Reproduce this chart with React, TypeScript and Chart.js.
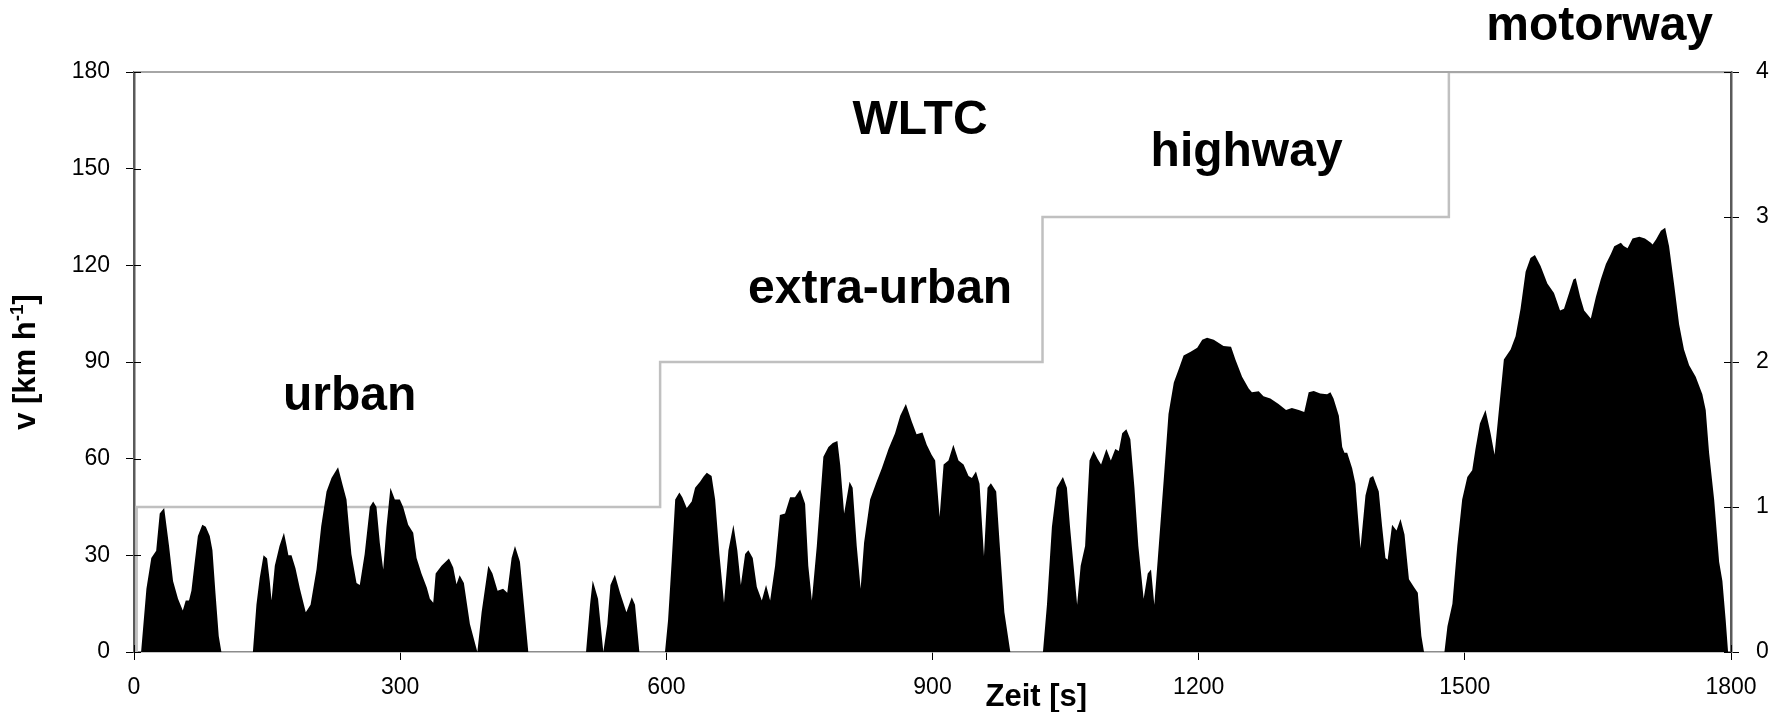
import React, { useEffect, useRef } from "react";
import { Chart, registerables } from "chart.js";

Chart.register(...registerables);

// WLTC speed trace: time [s] and speed [km/h]
const speedTime = [
  0, 8, 14, 19.5, 25, 29, 34, 39.5, 44, 49.6, 55, 58.3, 62, 64.7, 68.5, 72, 77, 80.9, 85.4, 88.4, 91.8, 95.5, 98.5,
  134, 138, 141.7, 146, 150, 153, 155, 158.7, 164, 169, 172, 174, 177.5, 182, 187, 193.6, 199, 205.7, 211, 217,
  222.6, 230, 235, 239.5, 245, 250.8, 254.5, 260, 265.8, 269.6, 273.3, 277, 280.9, 284.6, 289, 294, 299.6, 303.4,
  309, 314.7, 318.5, 324, 330, 333.5, 337.3, 340, 346.6, 355, 359.8, 363.5, 367, 371.8, 378.6, 387, 391.8, 399.3,
  404, 409.8, 416, 420.7, 425.6, 429.4, 435, 439.5, 444.4,
  509.5, 514, 517, 523, 529, 533.5, 537, 542, 547.8, 555, 561, 564.7, 569.6,
  598.5, 602, 606, 610, 614.7, 618, 623, 628.6, 632.4, 638, 642, 645.6, 651, 655, 659.8, 665, 670, 675.6, 680, 684,
  688.8, 692.5, 697.4, 702, 707.6, 712.4, 717, 722.6, 728, 733.8, 739.5, 745, 750.8, 756.4, 760, 764, 769.6, 777,
  782.7, 787.6, 792.8, 796, 800.4, 806.5, 810, 814.6, 819, 822.9, 829.7, 837, 842.9, 850.4, 857.8, 863.6, 870,
  876.6, 882, 888.7, 893.5, 899, 903, 908, 912.5, 918, 923.5, 929.3, 935, 940.6, 944.4, 949, 953, 958, 962, 965.8,
  971.8, 975.6, 981, 987.7,
  1024.5, 1029, 1034.6, 1040, 1047, 1051.5, 1055, 1059, 1063, 1067, 1072, 1077, 1081.6, 1086, 1090, 1096, 1101,
  1106, 1110, 1113.8, 1118.5, 1123, 1127.6, 1132, 1138, 1142.6, 1146.3, 1150, 1154, 1160.6, 1166, 1172, 1177.6,
  1183, 1191, 1198.4, 1204, 1209.5, 1217, 1228, 1236.5, 1241.4, 1248.9, 1256.4, 1260, 1267.7, 1273, 1280.8, 1290,
  1298.5, 1305, 1312.8, 1319, 1324, 1329.7, 1337, 1344.8, 1348.5, 1352, 1358, 1361.8, 1364.3, 1367.4, 1373,
  1376.7, 1379.4, 1382.4, 1388, 1392.9, 1396.6, 1403, 1406.8, 1410.5, 1413, 1418, 1423, 1427.5, 1432, 1437,
  1442.6, 1447, 1451, 1454,
  1477, 1480.4, 1486, 1491.5, 1497, 1502.8, 1508.3, 1512, 1517, 1523.3, 1529, 1533.5, 1538.4, 1544, 1551.6,
  1557.2, 1562.8, 1568.5, 1574, 1579, 1585.4, 1593, 1600.5, 1607.3, 1611.8, 1617.5, 1622.4, 1625, 1630, 1634.5,
  1642, 1647.7, 1653.2, 1659, 1664.6, 1668.4, 1675.9, 1679, 1683.4, 1689, 1696.7, 1703, 1709.7, 1711.6, 1715.5,
  1721, 1725.8, 1730.2, 1736, 1741.5, 1747, 1752.8, 1760.2, 1767.7, 1771.5, 1775.3, 1781, 1786.6, 1790.3, 1794,
  1796.7, 1800,
];
const speedKmh = [
  0, 0, 19.6, 29.2, 31.4, 43, 44.7, 32.9, 22, 16.5, 12.9, 16, 16, 19, 28, 36, 39.5, 38.9, 36, 31.6, 18.4, 5, 0,
  0, 14.7, 23, 30, 29, 22, 16, 26.8, 32.9, 37, 33, 30, 30, 26, 19.6, 12.3, 14.7, 25.6, 39, 49.8,
  54, 57.3, 52, 47.3, 30.4, 21.4, 20.8, 30.4, 45, 46.7, 45, 34, 25.6, 38.9, 51, 47.3, 47.3, 45,
  39.5, 37, 29.2, 24.4, 20, 16.5, 15.3, 24.4, 26.8, 29, 26.2, 21, 23.8, 21.4, 8.7, 0, 12.3, 26.8,
  24.4, 19, 19.6, 18.4, 29.2, 32.9, 28, 14.7, 0,
  0, 14.7, 22.2, 16.5, 0, 8.7, 20.8, 24, 18.4, 12.3, 17, 14.7, 0,
  0, 10, 28, 47.3, 49.5, 48, 44.7, 46.7, 51, 52.8, 54.5, 55.6, 54.6, 47.3, 30.4, 15.3, 31.6, 39.5, 31.6, 20.8,
  30.4, 31.6, 29.2, 20.2, 16, 20.8, 16, 26.8, 42.5, 43, 48, 48, 50.4, 46, 26.8, 16, 32.9, 60.6,
  63.6, 64.9, 65.5, 58, 43, 52.8, 51, 32.9, 19.6, 34, 47.3, 52.8, 57, 63, 67.9, 73.3, 77,
  71.5, 67.6, 68.1, 64.3, 61.2, 59.4, 41.9, 58.2, 59.4, 64.3, 59.4, 58.2, 54.6, 54, 56, 52.2, 29.8, 51, 52.4,
  49.8, 34, 12.3, 0,
  0, 14.7, 38.9, 51, 54.3, 51, 38.9, 26.8, 14.7, 26.8, 32.9, 59.4, 62.4, 60, 58.2, 63, 59.4,
  63, 62.4, 67.9, 69.1, 66, 51, 32.9, 16.5, 24.4, 25.6, 14.7, 29.2, 53.4, 73.9, 83.6, 87.8,
  92, 93.2, 94.4, 96.9, 97.5, 96.9, 95, 94.7, 90.8, 85.4, 81.8, 80.6, 80.9, 79.4, 78.7, 77,
  75.1, 75.7, 75.1, 74.5, 80.6, 81, 80.2, 80, 80.6, 78.7, 73.3, 63.6, 61.8, 61.8, 57,
  52.2, 42.5, 32.2, 48.6, 54, 54.6, 49.8, 38.9, 29.2, 28.6, 39.5, 37.7, 41.3, 36.5, 22.6,
  20.2, 18.4, 5, 0,
  0, 8, 15, 32.9, 47.3, 54.3, 56.4, 63, 70.9, 75.1, 67.9, 61.2, 75.1, 90.8, 93.9,
  98, 106.5, 118, 122.3, 123.2, 119.8, 114.4, 111.4, 106, 106.5, 111.4, 115.6, 116, 110.2, 106,
  103.5, 110.2, 115.6, 120.4, 123.5, 125.9, 127, 126, 125.3, 128.3, 128.9, 128.3, 127, 126.5, 128,
  130.7, 131.7, 125.9, 113.8, 101.7, 93.9, 89, 85.4, 80, 75.1, 61.8, 47.3, 28, 22, 9.9,
  0, 0,
];

// Phase indicator (right axis): step changes at these times
const phaseTime = [0, 3, 593, 1024, 1482, 1800];
const phaseLevel = [0, 1, 2, 3, 4, 4];

// Axis ranges / tick steps
const xRange = [0, 1800];
const xStep = 300;
const vRange = [0, 180];
const vStep = 30;
const phaseRange = [0, 4];

// Text annotations, anchored in data coordinates (time, speed = baseline)
const noteText = ["urban", "extra-urban", "WLTC", "highway", "motorway"];
const noteTime = [243, 841, 886, 1254, 1652];
const noteSpeed = [75, 108.3, 160.8, 150.8, 190];

const xTitle = "Zeit [s]";
const yTitleMain = "v [km h";
const yTitleSup = "-1";
const yTitleEnd = "]";

const FONT = "'Liberation Sans', Arial, Helvetica, sans-serif";

const decorPlugin = {
  id: "decor",
  afterDraw(chart: any) {
    const { ctx, chartArea, scales } = chart;
    const { left, right, top, bottom } = chartArea;
    ctx.save();
    // top frame line
    ctx.strokeStyle = "#a6a6a6";
    ctx.lineWidth = 2;
    ctx.beginPath();
    ctx.moveTo(left, top);
    ctx.lineTo(right, top);
    ctx.stroke();

    // inner halves of cross tick marks
    ctx.strokeStyle = "#000";
    ctx.lineWidth = 1;
    ctx.beginPath();
    for (const t of scales.y.ticks) {
      const py = Math.round(scales.y.getPixelForValue(t.value)) + 0.5;
      ctx.moveTo(left, py);
      ctx.lineTo(left + 7, py);
    }
    for (const t of scales.y2.ticks) {
      const py = Math.round(scales.y2.getPixelForValue(t.value)) + 0.5;
      ctx.moveTo(right, py);
      ctx.lineTo(right - 7, py);
    }
    for (const t of scales.x.ticks) {
      const px = Math.round(scales.x.getPixelForValue(t.value)) + 0.5;
      ctx.moveTo(px, bottom);
      ctx.lineTo(px, bottom - 7);
    }
    ctx.stroke();

    // annotations
    ctx.fillStyle = "#000";
    ctx.font = `bold 48px ${FONT}`;
    ctx.textAlign = "center";
    ctx.textBaseline = "alphabetic";
    noteText.forEach((s, i) => {
      ctx.fillText(s, scales.x.getPixelForValue(noteTime[i]), scales.y.getPixelForValue(noteSpeed[i]));
    });

    // x title
    ctx.font = `bold 31px ${FONT}`;
    ctx.textBaseline = "middle";
    ctx.fillText(xTitle, scales.x.getPixelForValue(1017), 697);

    // y title (rotated, with superscript)
    ctx.translate(24, (top + bottom) / 2);
    ctx.rotate(-Math.PI / 2);
    const mainFont = `bold 31px ${FONT}`;
    const supFont = `bold 19px ${FONT}`;
    ctx.font = mainFont;
    const w1 = ctx.measureText(yTitleMain).width;
    const w3 = ctx.measureText(yTitleEnd).width;
    ctx.font = supFont;
    const w2 = ctx.measureText(yTitleSup).width;
    let x0 = -(w1 + w2 + w3) / 2;
    ctx.textAlign = "left";
    ctx.textBaseline = "alphabetic";
    const base = 11;
    ctx.font = mainFont;
    ctx.fillText(yTitleMain, x0, base);
    x0 += w1;
    ctx.font = supFont;
    ctx.fillText(yTitleSup, x0, base - 12);
    x0 += w2;
    ctx.font = mainFont;
    ctx.fillText(yTitleEnd, x0, base);
    ctx.restore();
  },
};

const plainTick = (v: any) => String(v);

export default function App() {
  const ref = useRef<HTMLCanvasElement | null>(null);

  useEffect(() => {
    document.body.style.margin = "0";
    const canvas = ref.current;
    if (!canvas) return;
    const speedData = speedTime.map((t, i) => ({ x: t, y: speedKmh[i] }));
    const phaseData = phaseTime.map((t, i) => ({ x: t, y: phaseLevel[i] }));
    const tickFont = { family: FONT, size: 23 };

    const chart = new Chart(canvas, {
      type: "line",
      data: {
        datasets: [
          {
            label: "v",
            data: speedData,
            yAxisID: "y",
            borderColor: "rgba(0,0,0,0)",
            borderWidth: 1,
            backgroundColor: "#000",
            fill: "origin",
            pointRadius: 0,
            tension: 0,
            order: 0,
          },
          {
            label: "phase",
            data: phaseData,
            yAxisID: "y2",
            borderColor: "#c0c0c0",
            borderWidth: 2.5,
            fill: false,
            pointRadius: 0,
            stepped: "before",
            order: 1,
          },
        ],
      },
      options: {
        animation: false,
        responsive: false,
        maintainAspectRatio: false,
        layout: { padding: { top: 72, left: 0, right: 0, bottom: 0 } },
        plugins: { legend: { display: false }, tooltip: { enabled: false } },
        scales: {
          x: {
            type: "linear",
            position: "bottom",
            min: xRange[0],
            max: xRange[1],
            ticks: { stepSize: xStep, font: tickFont, color: "#000", padding: 14, maxRotation: 0, autoSkip: false, callback: plainTick },
            grid: { drawOnChartArea: false, drawTicks: true, tickLength: 8, tickColor: "#000", tickWidth: 1 },
            border: { display: true, color: "#8c8c8c", width: 1.5 },
            afterFit: (s: any) => {
              s.height = 60;
            },
          },
          y: {
            type: "linear",
            position: "left",
            min: vRange[0],
            max: vRange[1],
            ticks: { stepSize: vStep, font: tickFont, color: "#000", padding: 16, callback: plainTick },
            grid: { drawOnChartArea: false, drawTicks: true, tickLength: 8, tickColor: "#000", tickWidth: 1 },
            border: { display: true, color: "#5a5a5a", width: 2.5 },
            afterFit: (s: any) => {
              s.width = 134;
            },
          },
          y2: {
            type: "linear",
            position: "right",
            min: phaseRange[0],
            max: phaseRange[1],
            ticks: { stepSize: 1, font: tickFont, color: "#000", padding: 17, callback: plainTick },
            grid: { drawOnChartArea: false, drawTicks: true, tickLength: 8, tickColor: "#000", tickWidth: 1 },
            border: { display: true, color: "#5a5a5a", width: 2.5 },
            afterFit: (s: any) => {
              s.width = 53;
            },
          },
        },
      },
      plugins: [decorPlugin],
    });
    return () => chart.destroy();
  }, []);

  return (
    <div style={{ width: 1784, height: 712, background: "#fff" }}>
      <canvas ref={ref} width={1784} height={712} style={{ display: "block", width: 1784, height: 712 }} />
    </div>
  );
}
